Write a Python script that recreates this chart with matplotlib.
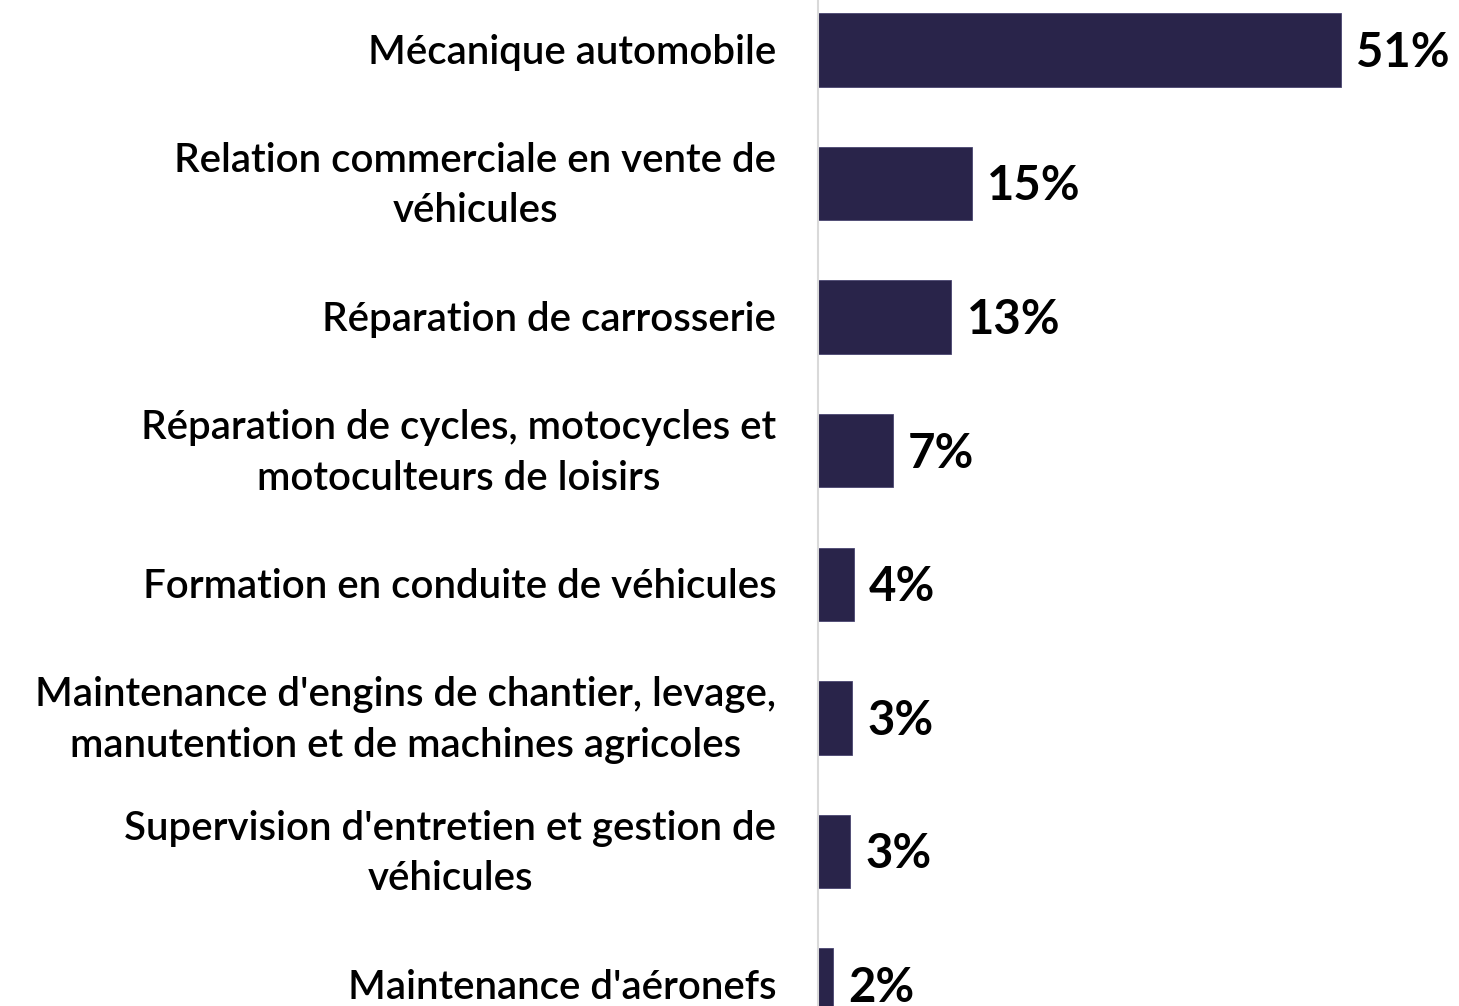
import matplotlib.pyplot as plt
import matplotlib.transforms as mtransforms
import numpy as np

categories = [
    "Mécanique automobile",
    "Relation commerciale en vente de\nvéhicules",
    "Réparation de carrosserie",
    "Réparation de cycles, motocycles et\nmotoculteurs de loisirs",
    "Formation en conduite de véhicules",
    "Maintenance d'engins de chantier, levage,\nmanutention et de machines agricoles",
    "Supervision d'entretien et gestion de\nvéhicules",
    "Maintenance d'aéronefs",
]
values = [51.0, 15.0, 13.0, 7.3, 3.5, 3.3, 3.1, 1.5]
value_labels = ["51%", "15%", "13%", "7%", "4%", "3%", "3%", "2%"]

bar_color = '#29244A'

fig = plt.figure(figsize=(14.59, 10.06), dpi=100)
ax = fig.add_axes([818 / 1459, 0, 641 / 1459, 1])

y = np.arange(len(categories))
ax.barh(y, values, height=0.55, color=bar_color, edgecolor='#4a4570', linewidth=0.6)

ax.set_ylim(7.157, -0.3745)
ax.set_xlim(0, 62.5)

for yi, v, lab in zip(y, values, value_labels):
    ax.annotate(lab, (v, yi), xytext=(11, -2), textcoords='offset points',
                va='center', ha='left', fontsize=34, fontweight='bold',
                family='Lato', color='black')

# category labels as plain text, right-aligned left of the axis line
tr = mtransforms.offset_copy(ax.get_yaxis_transform(), fig=fig,
                             x=-30, y=-1.5, units='points')
for yi, cat in zip(y, categories):
    ax.text(0, yi, cat, transform=tr, ha='right', va='center',
            multialignment='center', linespacing=1.45,
            fontsize=29, family='Lato', fontweight='semibold', clip_on=False)

ax.set_yticks([])
ax.set_xticks([])

for s in ['top', 'right', 'bottom']:
    ax.spines[s].set_visible(False)
ax.spines['left'].set_color('#D9D9D9')
ax.spines['left'].set_linewidth(1.5)

fig.savefig('out.png', dpi=100)
